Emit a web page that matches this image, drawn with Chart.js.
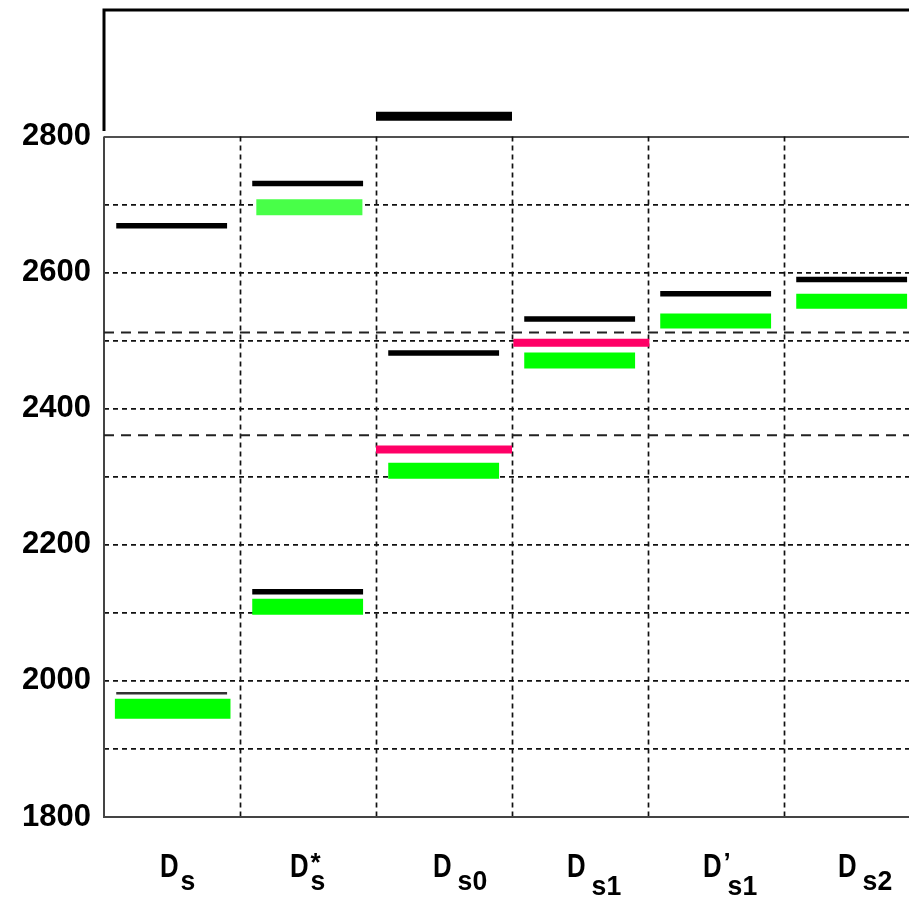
<!DOCTYPE html>
<html>
<head>
<meta charset="utf-8">
<script src="https://cdn.jsdelivr.net/npm/chart.js@4/dist/chart.umd.min.js"></script>
<style>
  html, body { margin: 0; padding: 0; background: #fff; overflow: hidden; width: 909px; height: 898px; }
  canvas { display: block; }
</style>
</head>
<body>
<canvas id="c" width="924" height="898"></canvas>
<script>
// Charmed-strange meson levels (MeV)
const categories = ['Ds', 'Ds*', 'Ds0', 'Ds1', "D's1", 'Ds2'];
const labelMain = ['D', 'D', 'D', 'D', 'D', 'D'];
const labelSub = ['s', 's', 's0', 's1', 's1', 's2'];
const labelSup = ['', '*', '', '', '\u2019', ''];

const yTicks = [1800, 1900, 2000, 2100, 2200, 2300, 2400, 2500, 2600, 2700, 2800];
const yLabelStep = 200;
const yMin = 1800;
const yMax = 2986;

// black levels
const blackLevels    = [2669, 2731, 2482, 2532, 2569, 2590];
const blackLowLevels = [null, 2131, null, null, null, null];
const blackThin      = [1982, null, null, null, null, null];
const blackWide      = [null, null, 2830, null, null, null];
// green bands
const greenLevels    = [1959, 2109, 2309, 2471, 2529, 2558];
const greenLight     = [null, 2696, null, null, null, null];
// magenta levels
const pinkLevels     = [null, null, 2340, 2497, null, null];
// two-meson thresholds (dashed)
const thresholds     = [2361, 2512];

// ---- styling ----
const STD = [-0.41, 0.405];
const FULL = [-0.5, 0.5];

function segments(values, extent, extentFor) {
  const pts = [];
  values.forEach((v, i) => {
    if (v === null) return;
    const e = extentFor ? extentFor(i) : extent;
    pts.push({ x: i + e[0], y: v }, { x: i + e[1], y: v }, { x: i + e[1], y: null });
  });
  return pts;
}

function levelSet(values, color, width, extent, order, extentFor, widthFor) {
  return {
    type: 'line',
    data: segments(values, extent, extentFor),
    borderColor: color,
    borderWidth: width,
    segment: widthFor ? { borderWidth: ctx => widthFor(Math.floor(ctx.p0.parsed.x + 0.5)) } : undefined,
    borderCapStyle: 'butt',
    pointRadius: 0,
    pointHoverRadius: 0,
    tension: 0,
    spanGaps: false,
    order: order
  };
}

const datasets = [
  levelSet(blackLevels, '#000000', 5.5, STD, 1),
  levelSet(blackLowLevels, '#000000', 5.5, STD, 1),
  levelSet(blackThin, '#333333', 2.5, STD, 1),
  levelSet(blackWide, '#000000', 9, FULL, 1),
  levelSet(greenLevels, '#00ff00', 16, STD, 2, i => (i === 0 ? [-0.42, 0.43] : STD), i => (i === 0 ? 20 : (i >= 4 ? 15 : 16))),
  levelSet(greenLight, '#48ff48', 16, [-0.38, 0.40], 2),
  levelSet(pinkLevels, '#ff0066', 8, FULL, 1, i => (i === 3 ? [-0.49, 0.51] : FULL)),
  {
    type: 'line',
    data: thresholds.flatMap(t => [{ x: -0.5, y: t }, { x: 5.5, y: t }, { x: 5.5, y: null }]),
    borderColor: '#222222',
    borderWidth: 2,
    borderDash: [10, 7],
    pointRadius: 0,
    tension: 0,
    spanGaps: false,
    order: 5
  }
];

// frame, vertical category dividers and upper box
const framePlugin = {
  id: 'frame',
  beforeDatasetsDraw(chart) {
    const { ctx, chartArea, scales: { x, y } } = chart;
    const yTop = y.getPixelForValue(2800);
    const yBot = y.getPixelForValue(1800);
    ctx.save();
    // category dividers
    ctx.strokeStyle = '#111';
    ctx.lineWidth = 1.7;
    ctx.setLineDash([5, 4]);
    for (let i = 0; i < categories.length; i++) {
      const px = Math.round(x.getPixelForValue(i + 0.5)) + 0.5;
      ctx.beginPath();
      ctx.moveTo(px, yTop);
      ctx.lineTo(px, yBot);
      ctx.stroke();
    }
    ctx.setLineDash([]);
    // lower box: left axis and bottom
    ctx.strokeStyle = '#444';
    ctx.lineWidth = 2;
    ctx.beginPath();
    ctx.moveTo(chartArea.left, yTop);
    ctx.lineTo(chartArea.left, yBot);
    ctx.lineTo(chartArea.right, yBot);
    ctx.stroke();
    // upper box
    ctx.strokeStyle = '#000';
    ctx.lineWidth = 3;
    ctx.beginPath();
    ctx.moveTo(chartArea.left, y.getPixelForValue(2808));
    ctx.lineTo(chartArea.left, chartArea.top);
    ctx.lineTo(chartArea.right, chartArea.top);
    ctx.stroke();
    ctx.restore();
  }
};

// category names with sub/superscripts
const labelShift = [-12, -18, -11, -13, -13, -14];
const labelPlugin = {
  id: 'catLabels',
  afterDraw(chart) {
    const { ctx, scales: { x } } = chart;
    ctx.save();
    ctx.fillStyle = '#000';
    ctx.textBaseline = 'alphabetic';
    ctx.textAlign = 'left';
    categories.forEach((c, i) => {
      const cx = x.getPixelForValue(i);
      const left = cx + labelShift[i];
      // main letter
      ctx.save();
      ctx.font = 'bold 33px "Liberation Sans", Arial, sans-serif';
      ctx.translate(left, 877);
      ctx.scale(0.78, 1);
      ctx.fillText(labelMain[i], 0, 0);
      const mw = ctx.measureText(labelMain[i]).width * 0.78;
      ctx.restore();
      // subscript
      const sub = labelSub[i];
      const lowered = sub.endsWith('1');
      const gap = sub.length > 1 ? 6 : 2;
      ctx.save();
      ctx.font = 'bold 28px "Liberation Sans", Arial, sans-serif';
      ctx.translate(left + mw + gap, lowered ? 895 : 890);
      ctx.scale(0.95, 1);
      ctx.fillText(sub, 0, 0);
      ctx.restore();
      // superscript
      if (labelSup[i]) {
        ctx.save();
        ctx.font = 'bold 26px "Liberation Sans", Arial, sans-serif';
        ctx.fillText(labelSup[i], left + mw + 2, 871);
        ctx.restore();
      }
    });
    ctx.restore();
  }
};

new Chart(document.getElementById('c'), {
  type: 'line',
  data: { datasets },
  options: {
    responsive: false,
    animation: false,
    devicePixelRatio: 1,
    layout: { padding: { top: 10, bottom: 81, left: 0, right: 4 } },
    plugins: { legend: { display: false }, tooltip: { enabled: false } },
    scales: {
      x: { type: 'linear', min: -0.5, max: 5.5, display: false },
      y: {
        type: 'linear',
        min: yMin,
        max: yMax,
        afterBuildTicks: s => { s.ticks = yTicks.map(v => ({ value: v })); },
        afterFit: s => { s.width = 104; s.paddingTop = 0; s.paddingBottom = 0; },
        ticks: {
          autoSkip: false,
          padding: 13,
          color: '#000',
          font: { family: '"Liberation Sans", Arial, sans-serif', weight: 'bold', size: 31 },
          callback: v => (v % yLabelStep === 0 ? String(v) : '')
        },
        grid: {
          drawTicks: false,
          color: ctx => {
            const v = ctx.tick && ctx.tick.value;
            if (v === 1800) return 'rgba(0,0,0,0)';
            if (v === 2800) return '#505050';
            return '#111';
          },
          lineWidth: ctx => (ctx.tick && ctx.tick.value === 2800 ? 2 : 1.7)
        },
        border: {
          display: false,
          dash: ctx => (ctx.tick && ctx.tick.value === 2800 ? [] : [5, 4])
        }
      }
    }
  },
  plugins: [framePlugin, labelPlugin]
});
</script>
</body>
</html>
